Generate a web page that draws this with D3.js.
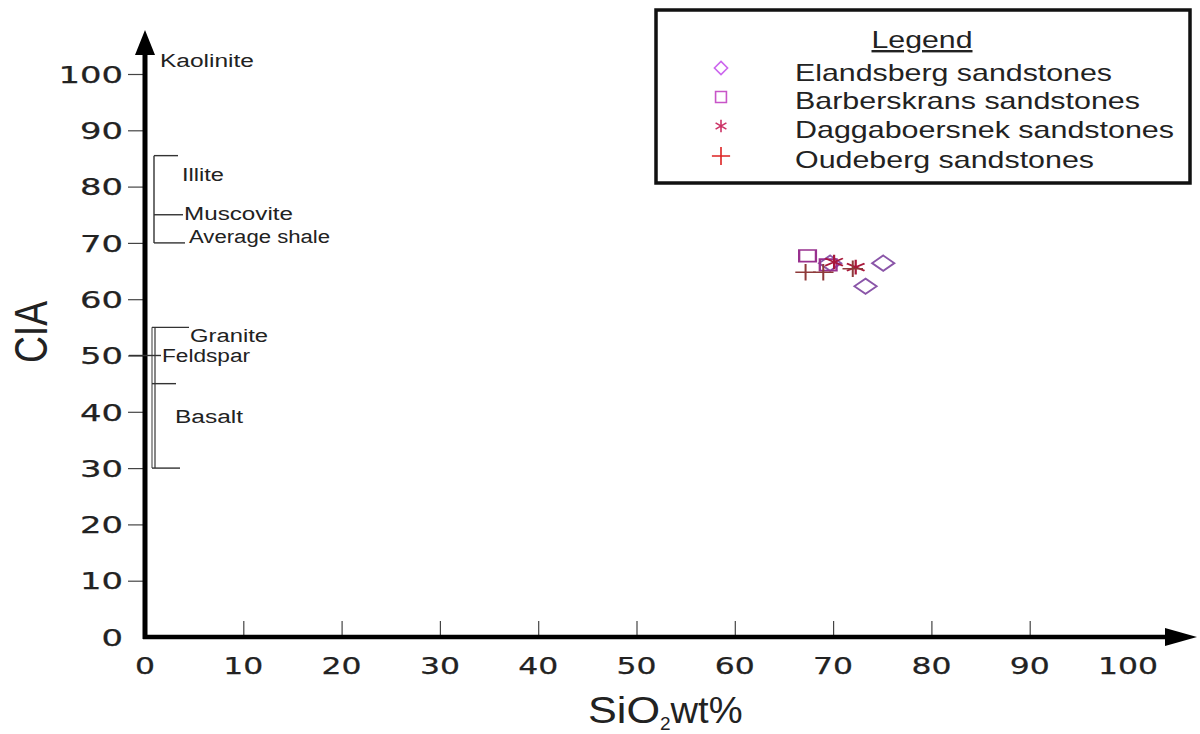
<!DOCTYPE html>
<html><head><meta charset="utf-8">
<script src="https://cdn.jsdelivr.net/npm/d3@7"></script>
<style>body{margin:0;background:#fff}svg{display:block}</style>
</head><body>
<svg id="c" width="1200" height="734"></svg>
<script>
// ---- data ----
const xTicks = [0,10,20,30,40,50,60,70,80,90,100];
const yTicks = [0,10,20,30,40,50,60,70,80,90,100];
const seriesNames = ["Elandsberg sandstones","Barberskrans sandstones","Daggaboersnek sandstones","Oudeberg sandstones"];
const elandsbergSiO2 = [75.1, 73.3, 69.7];
const elandsbergCIA  = [66.4, 62.3, 66.4];
const barberskransSiO2 = [67.4, 69.5];
const barberskransCIA  = [67.7, 66.1];
const daggaSiO2 = [72.3, 70.1];
const daggaCIA  = [65.7, 66.6];
const oudebergSiO2 = [67.2, 69.0, 72.0];
const oudebergCIA  = [64.8, 64.8, 65.4];
// mineral reference brackets (CIA values)
const mineralNames = ["Kaolinite","Illite","Muscovite","Average shale","Granite","Feldspar","Basalt"];
const illiteRange = [70, 85.5];
const muscoviteCIA = 75;
const shaleCIA = 70;
const graniteRange = [30, 55];
const feldsparCIA = 50;
const basaltRange = [30, 45];

const svg = d3.select("#c");
const x = d3.scaleLinear().domain([0,100]).range([145,1128]);
const y = d3.scaleLinear().domain([0,100]).range([637,74]);

const tickFont = "DejaVu Sans";
// y axis ticks
const yAxis = d3.axisLeft(y).tickValues(yTicks).tickSize(17).tickPadding(5);
const gy = svg.append("g").attr("transform","translate(145,0)").call(yAxis);
gy.select(".domain").remove();
gy.selectAll(".tick line").attr("stroke","#444").attr("stroke-width",1.2);
gy.selectAll(".tick line").filter(d=>d===0).remove();
gy.selectAll(".tick text").attr("font-family",tickFont).attr("font-size",23)
  .attr("fill","#222").attr("stroke","#222").attr("stroke-width",0.25)
  .attr("textLength",d=>String(d).length*21.5).attr("lengthAdjust","spacingAndGlyphs")
  .attr("dy","0.36em");

// x axis ticks (inside)
const xAxis = d3.axisTop(x).tickValues(xTicks).tickSize(16).tickFormat("");
const gx = svg.append("g").attr("transform","translate(0,637)").call(xAxis);
gx.select(".domain").remove();
gx.selectAll(".tick line").attr("stroke","#444").attr("stroke-width",1.2);
gx.selectAll(".tick line").filter(d=>d===0||d===100).remove();
svg.append("g").selectAll("text").data(xTicks).join("text")
  .attr("x",d=>x(d)).attr("y",666).attr("dy","0.36em").attr("text-anchor","middle")
  .attr("font-family",tickFont).attr("font-size",23).attr("fill","#222")
  .attr("stroke","#222").attr("stroke-width",0.25)
  .attr("textLength",d=>String(d).length*20).attr("lengthAdjust","spacingAndGlyphs")
  .text(d=>d);

// thick axis lines with arrows
svg.append("line").attr("x1",x(0)).attr("x2",x(0)).attr("y1",y(0)+2).attr("y2",50)
  .attr("stroke","#000").attr("stroke-width",5);
svg.append("path").attr("d",`M${x(0)-10},55 L${x(0)},30 L${x(0)+10},55 Z`).attr("fill","#000");
svg.append("line").attr("x1",x(0)-2).attr("x2",1170).attr("y1",y(0)).attr("y2",y(0))
  .attr("stroke","#000").attr("stroke-width",4.5);
svg.append("path").attr("d",`M1165,${y(0)-9} L1197,${y(0)} L1165,${y(0)+9} Z`).attr("fill","#000");

// axis titles
svg.append("text").attr("transform","translate(47,332) rotate(-90)").attr("text-anchor","middle")
  .attr("font-family","Liberation Sans").attr("font-size",46).attr("fill","#222")
  .attr("textLength",62).attr("lengthAdjust","spacingAndGlyphs").text("CIA");
const xt = svg.append("text").attr("x",588).attr("y",723).attr("font-family","Liberation Sans")
  .attr("font-size",36).attr("fill","#222");
xt.append("tspan").attr("textLength",72).attr("lengthAdjust","spacingAndGlyphs").text("SiO");
xt.append("tspan").attr("font-size",19).attr("dy",7).text("2");
xt.append("tspan").attr("dy",-7).attr("textLength",72).attr("lengthAdjust","spacingAndGlyphs").text("wt%");

// mineral annotations
const ann = svg.append("g").attr("font-family","Liberation Sans").attr("font-size",18).attr("fill","#222");
const ln = (x1,y1,x2,y2,c="#333",w=1.4)=>ann.append("line").attr("x1",x1).attr("y1",y1).attr("x2",x2).attr("y2",y2).attr("stroke",c).attr("stroke-width",w);
const tx = (t,px,py,w)=>ann.append("text").attr("x",px).attr("y",py).attr("dy","0.35em")
  .attr("textLength",w).attr("lengthAdjust","spacingAndGlyphs").text(t);
tx(mineralNames[0], 160, 61, 94);
// Illite bracket
ln(154, y(illiteRange[1]), 154, y(illiteRange[0]));
ln(154, y(illiteRange[1]), 178, y(illiteRange[1]));
tx(mineralNames[1], 182, 175, 42);
ln(154, y(muscoviteCIA), 183, y(muscoviteCIA));
tx(mineralNames[2], 184, 214, 109);
ln(154, y(shaleCIA), 185, y(shaleCIA));
tx(mineralNames[3], 189, 237, 141);
// Granite / Basalt bracket
ln(152, y(graniteRange[1]), 152, y(graniteRange[0]), "#666", 1.3);
ln(155, y(graniteRange[1]), 155, y(graniteRange[0]), "#444", 1.3);
ln(152, y(graniteRange[1]), 189, y(graniteRange[1]));
tx(mineralNames[4], 190, 336, 78);
ln(129, y(feldsparCIA), 161, y(feldsparCIA));
tx(mineralNames[5], 162, 356, 88);
ln(152, y(basaltRange[1]), 176, y(basaltRange[1]));
ln(152, y(basaltRange[0]), 180, y(basaltRange[0]));
tx(mineralNames[6], 175, 417, 68);

// data markers
const plotColors = ["#8a55a8","#98308e","#a8183a","#8e3a3a"];
const legendColors = ["#cc66ee","#c855c8","#cc3366","#dd2222"];
const symTypes = [d3.symbolDiamond2, d3.symbolSquare2, d3.symbolAsterisk, d3.symbolPlus];
const series = [
  d3.zip(elandsbergSiO2, elandsbergCIA),
  d3.zip(barberskransSiO2, barberskransCIA),
  d3.zip(daggaSiO2, daggaCIA),
  d3.zip(oudebergSiO2, oudebergCIA)
];
const plotSizes = [150, 170, 150, 90];
const plotScaleX = [1.45, 1.45, 1.4, 1.25];
series.forEach((pts,i)=>{
  svg.append("g").selectAll("path").data(pts).join("path")
    .attr("d", d3.symbol(symTypes[i], plotSizes[i])())
    .attr("transform", d=>`translate(${x(d[0])},${y(d[1])}) scale(${plotScaleX[i]},1)`)
    .attr("fill","none").attr("stroke",plotColors[i]).attr("stroke-width",1.6);
});

// legend
const lg = svg.append("g");
lg.append("rect").attr("x",656).attr("y",10).attr("width",534).attr("height",173)
  .attr("fill","#fff").attr("stroke","#111").attr("stroke-width",3.5);
lg.append("text").attr("x",922).attr("y",48).attr("text-anchor","middle")
  .attr("font-family","Liberation Sans").attr("font-size",24).attr("fill","#222")
  .attr("text-decoration","underline").attr("textLength",101).attr("lengthAdjust","spacingAndGlyphs").text("Legend");
const rowY = [73, 101, 130, 160];
const symY = [68, 97, 126, 156];
const textW = [317, 345, 379, 299];
seriesNames.forEach((n,i)=>{
  lg.append("path").attr("d", d3.symbol(symTypes[i], [110,150,110,110][i])())
    .attr("transform",`translate(721,${symY[i]})`)
    .attr("fill","none").attr("stroke",legendColors[i]).attr("stroke-width",1.6);
  lg.append("text").attr("x",795).attr("y",rowY[i]).attr("dy","0.35em")
    .attr("font-family","Liberation Sans").attr("font-size",24).attr("fill","#222")
    .attr("textLength",textW[i]).attr("lengthAdjust","spacingAndGlyphs").text(n);
});
</script>
</body></html>
